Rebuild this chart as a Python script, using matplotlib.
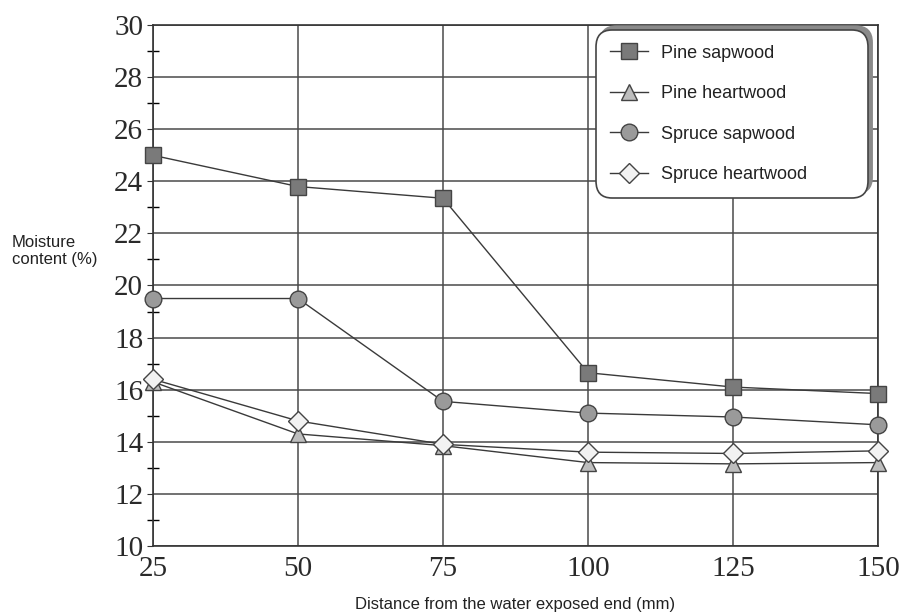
import numpy as np
import matplotlib.pyplot as plt

# distance from the water exposed end (mm)
distance = [25, 50, 75, 100, 125, 150]

# moisture content (%) per wood type
pine_sap = [25.0, 23.8, 23.35, 16.65, 16.1, 15.85]
pine_heart = [16.3, 14.3, 13.85, 13.2, 13.15, 13.2]
spruce_sap = [19.5, 19.5, 15.55, 15.1, 14.95, 14.65]
spruce_heart = [16.4, 14.8, 13.9, 13.6, 13.55, 13.65]

labels = ['Pine sapwood', 'Pine heartwood', 'Spruce sapwood', 'Spruce heartwood']
yticks = np.arange(10, 31, 2)

fig = plt.figure(figsize=(9.03, 6.12), dpi=100)
ax = fig.add_axes([0.1694, 0.108, 0.803, 0.851])

ink = '#3a3a3a'
series = [
    (pine_sap, 's', '#7a7a7a', 12),
    (pine_heart, '^', '#bdbdbd', 12),
    (spruce_sap, 'o', '#9a9a9a', 12),
    (spruce_heart, 'D', '#f2f2f2', 10),
]
for (vals, mk, fc, ms), lab in zip(series, labels):
    ax.plot(distance, vals, color=ink, lw=1.0, marker=mk, ms=ms,
            mfc=fc, mec='#444444', mew=1.0, label=lab, zorder=3,
            clip_on=False)

ax.set_xlim(25, 150)
ax.set_ylim(10, 30)
ax.set_xticks(distance)
ax.set_yticks(yticks)
ax.set_yticks(np.arange(11, 30, 2), minor=True)
ax.grid(True, which='major', color='#4a4a4a', lw=1.1)

for s in ax.spines.values():
    s.set_color('#333333')
    s.set_linewidth(1.2)

ax.tick_params(axis='both', which='major', labelsize=21, colors='#333333',
               labelcolor='#2a2a2a', length=4)
ax.tick_params(axis='x', pad=7, length=0)
ax.tick_params(axis='y', pad=3)
ax.tick_params(axis='y', which='minor', direction='inout', length=9, width=1)
for t in ax.get_xticklabels() + ax.get_yticklabels():
    t.set_fontfamily('Liberation Serif')

ax.set_xlabel('Distance from the water exposed end (mm)', fontsize=12,
              fontfamily='Liberation Sans', color='#222222', labelpad=11)
fig.text(0.013, 0.59, 'Moisture\ncontent (%)', fontsize=12,
         fontfamily='Liberation Sans', color='#222222', va='center', ha='left',
         linespacing=1.15)

# legend box stretched over the upper right corner
leg = ax.legend(loc='upper right', bbox_to_anchor=(0.611, 0.66, 0.375, 0.33),
                mode='expand', fontsize=13, fancybox=True, framealpha=1,
                edgecolor='#444444', borderpad=0.8, labelspacing=1.3,
                handlelength=2.1, handletextpad=0.7, borderaxespad=0.0,
                shadow={'ox': 3, 'oy': 3, 'color': '#8a8a8a', 'alpha': 1})
leg.get_frame().set_linewidth(1.2)
leg.get_frame().set_boxstyle('round', pad=0, rounding_size=0.9)
for t in leg.get_texts():
    t.set_fontfamily('Liberation Sans')
    t.set_color('#222222')

fig.savefig('out.png', dpi=100)
